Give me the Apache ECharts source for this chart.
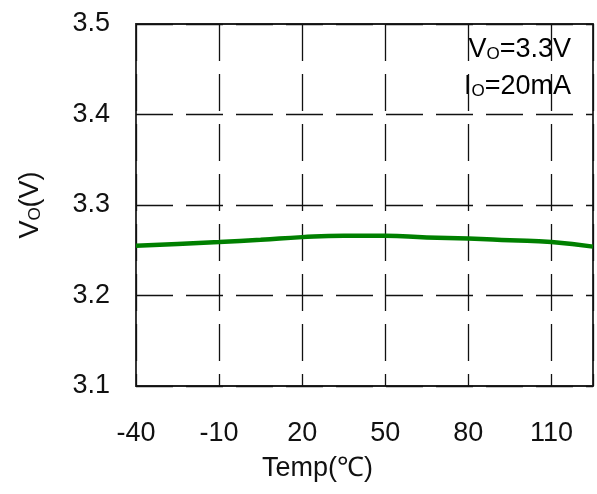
<!DOCTYPE html>
<html>
<head>
<meta charset="utf-8">
<style>
  html, body { margin: 0; padding: 0; background: #fff; }
  #chart { width: 597px; height: 494px; }
</style>
<script src="https://cdn.jsdelivr.net/npm/echarts@6/dist/echarts.min.js"></script>
</head>
<body>
<div id="chart"></div>
<script>
// temperature (℃) and output voltage (V)
const temps = [-40, -25, -10, 5, 20, 35, 50, 65, 80, 95, 110, 125];
const vout = [3.255, 3.257, 3.259, 3.2615, 3.2645, 3.266, 3.266, 3.264, 3.263, 3.261, 3.259, 3.254];
const xTicks = [-40, -10, 20, 50, 80, 110];
const yTicks = [3.1, 3.2, 3.3, 3.4, 3.5];

const font = '"Liberation Sans", Arial, sans-serif';
const gridDash = {
  color: '#111',
  width: 1.3,
  type: [37, 13]
};

const chart = echarts.init(document.getElementById('chart'));
chart.setOption({
  animation: false,
  grid: {
    left: 136,
    right: 4,
    top: 24,
    bottom: 108,
    show: true,
    borderColor: '#222',
    borderWidth: 1.8
  },
  xAxis: {
    type: 'value',
    min: -40,
    max: 125,
    interval: 30,
    axisLine: { show: false },
    axisTick: { show: false },
    splitLine: { show: true, lineStyle: gridDash },
    axisLabel: {
      margin: 34,
      color: '#111',
      fontFamily: font,
      fontSize: 27,
      formatter: function (v) {
        return xTicks.indexOf(v) >= 0 ? String(v) : '';
      }
    }
  },
  yAxis: {
    type: 'value',
    min: 3.1,
    max: 3.5,
    interval: 0.1,
    axisLine: { show: false },
    axisTick: { show: false },
    splitLine: { show: true, lineStyle: gridDash },
    name: '{v|V}{s|O}{v|(V)}',
    nameLocation: 'middle',
    nameRotate: 90,
    nameGap: 92,
    nameTextStyle: {
      rich: {
        v: { fontFamily: font, fontSize: 27, color: '#111' },
        s: { fontFamily: font, fontSize: 17, color: '#111', padding: [9, 0, 0, 0] }
      }
    },
    axisLabel: {
      margin: 26,
      color: '#111',
      fontFamily: font,
      fontSize: 27,
      formatter: function (v) {
        return yTicks.some(t => Math.abs(t - v) < 1e-6) ? v.toFixed(1) : '';
      }
    }
  },
  graphic: [
    {
      type: 'text',
      left: 262,
      top: 455,
      style: {
        text: 'Temp(℃)',
        font: '27px ' + font,
        fill: '#111'
      }
    },
    {
      type: 'text',
      right: 26,
      top: 36,
      style: {
        text: '{v|V}{s|O}{v|=3.3V}\n{v|I}{s|O}{v|=20mA}',
        textAlign: 'right',
        rich: {
          v: { fontFamily: font, fontSize: 27, color: '#111', lineHeight: 37 },
          s: { fontFamily: font, fontSize: 17, color: '#111', lineHeight: 37, padding: [9, 0, 0, 0] }
        }
      }
    }
  ],
  series: [{
    type: 'line',
    data: temps.map((t, i) => [t, vout[i]]),
    showSymbol: false,
    smooth: true,
    lineStyle: { color: '#008000', width: 4.5 }
  }]
});
</script>
</body>
</html>
